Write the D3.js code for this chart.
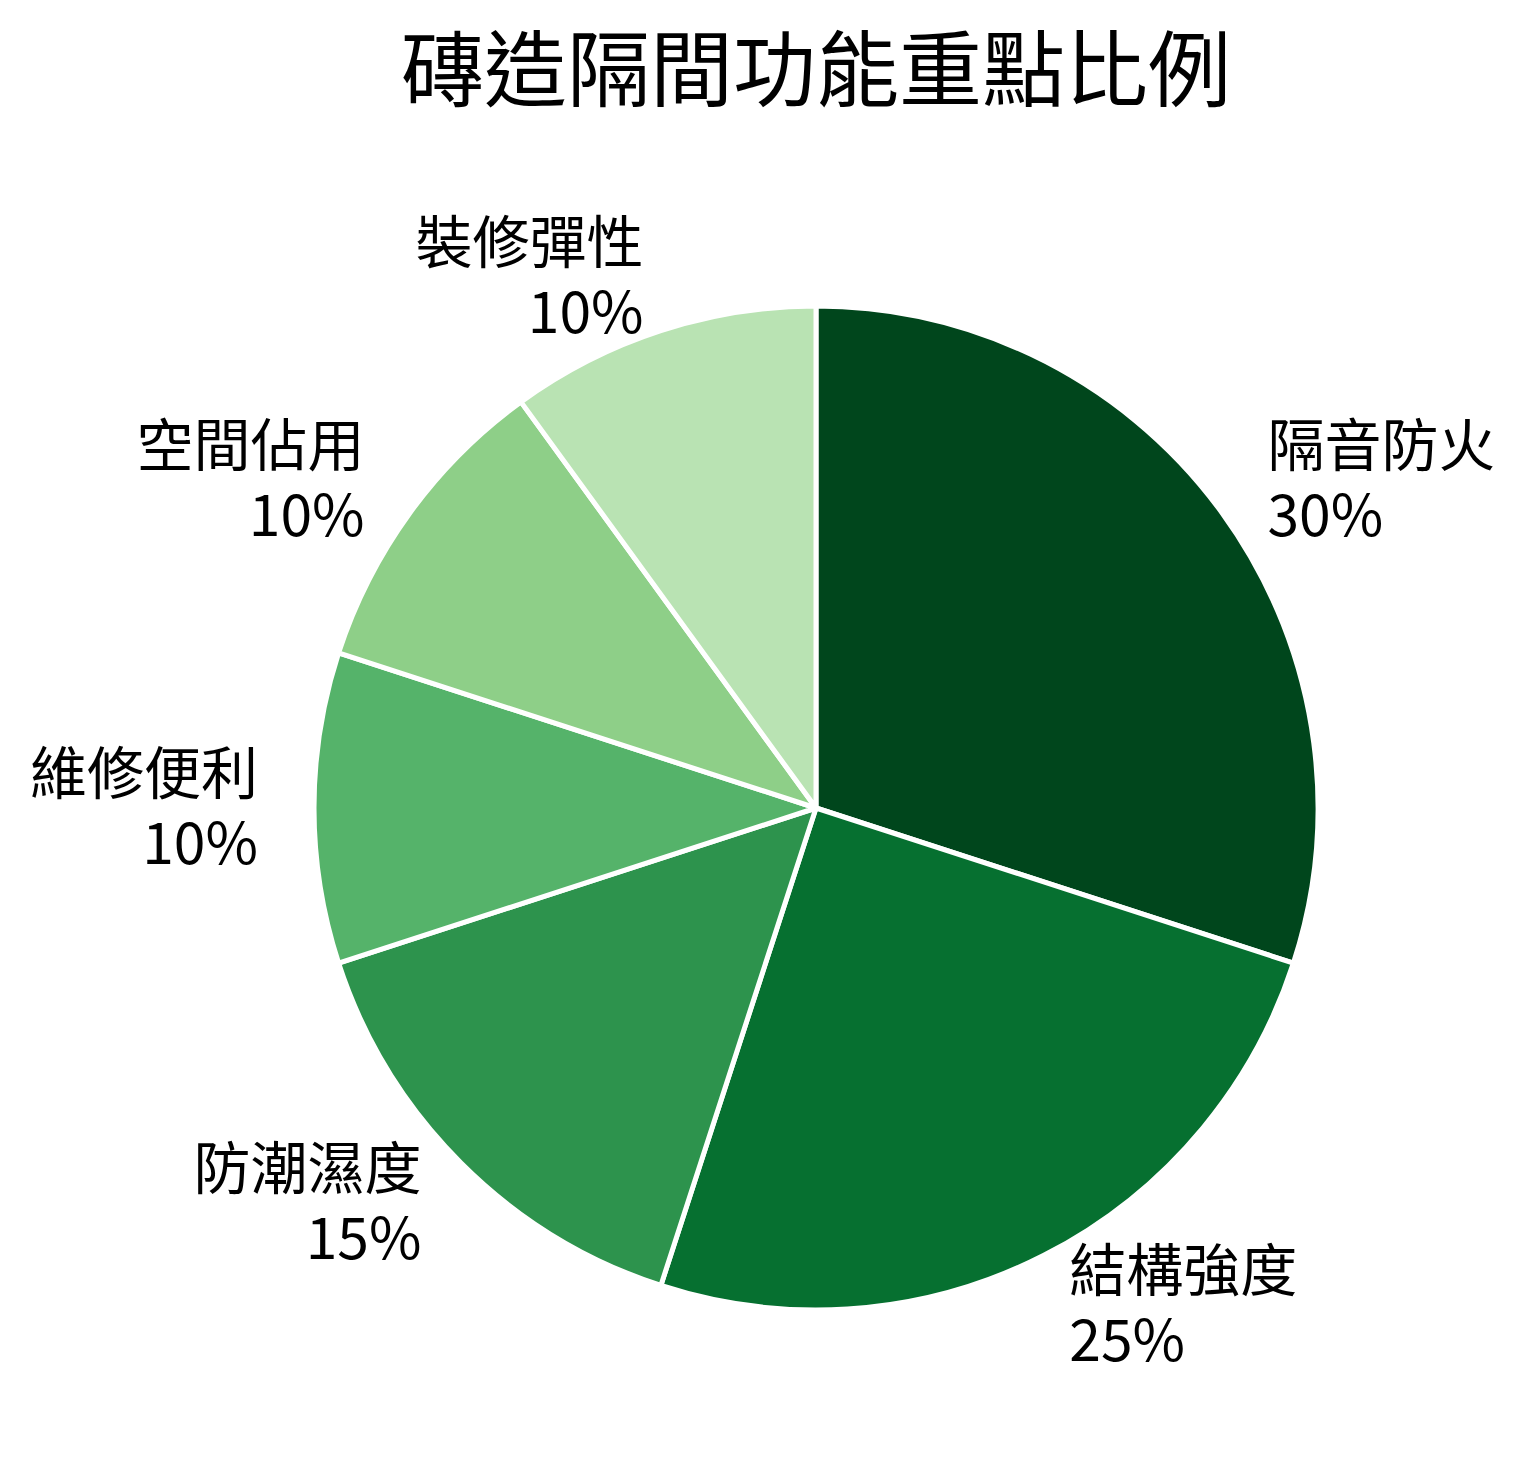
<!DOCTYPE html>
<html>
<head>
<meta charset="utf-8">
<script src="https://cdn.jsdelivr.net/npm/d3@7"></script>
<style>
  body { margin: 0; background: #fff; }
  text { font-family: "Noto Sans CJK TC", "Noto Sans", sans-serif; fill: #000; }
</style>
</head>
<body>
<div id="chart"></div>
<script>
// data
const categories = ["隔音防火", "結構強度", "防潮濕度", "維修便利", "空間佔用", "裝修彈性"];
const values = [30, 25, 15, 10, 10, 10];
const colors = ["#00461c", "#067030", "#2d934d", "#55b36a", "#8ecf88", "#b9e3b3"];
const title = "磚造隔間功能重點比例";

const width = 1528;
const height = 1468;
const cx = 816, cy = 808;
const radius = 502;
const labelRadius = 558;

const svg = d3.select("#chart").append("svg")
  .attr("width", width)
  .attr("height", height);

svg.append("text")
  .attr("x", cx)
  .attr("y", 64)
  .attr("text-anchor", "middle")
  .attr("dominant-baseline", "central")
  .style("font-size", "83px")
  .text(title);

const data = categories.map((c, i) => ({ name: c, value: values[i], color: colors[i] }));

const pie = d3.pie().value(d => d.value).sort(null);
const arc = d3.arc().innerRadius(0).outerRadius(radius);

const g = svg.append("g").attr("transform", `translate(${cx},${cy})`);

const arcs = pie(data);

g.selectAll("path")
  .data(arcs)
  .join("path")
    .attr("d", arc)
    .attr("fill", d => d.data.color)
    .attr("stroke", "#fff")
    .attr("stroke-width", 5)
    .attr("stroke-linejoin", "round");

// labels outside the pie, name on top and percent below
const labels = g.selectAll("g.label")
  .data(arcs)
  .join("g")
    .attr("class", "label")
    .attr("transform", d => {
      const a = (d.startAngle + d.endAngle) / 2;
      return `translate(${labelRadius * Math.sin(a)},${-labelRadius * Math.cos(a)})`;
    });

labels.each(function(d) {
  const a = (d.startAngle + d.endAngle) / 2;
  const anchor = Math.sin(a) > 0.01 ? "start" : "end";
  const sel = d3.select(this);
  sel.append("text")
    .attr("text-anchor", anchor)
    .attr("y", -39)
    .attr("dominant-baseline", "central")
    .style("font-size", "57px")
    .text(d.data.name);
  sel.append("text")
    .attr("text-anchor", anchor)
    .attr("y", 31)
    .attr("dominant-baseline", "central")
    .style("font-size", "57px")
    .text(d.data.value + "%");
});
</script>
</body>
</html>
